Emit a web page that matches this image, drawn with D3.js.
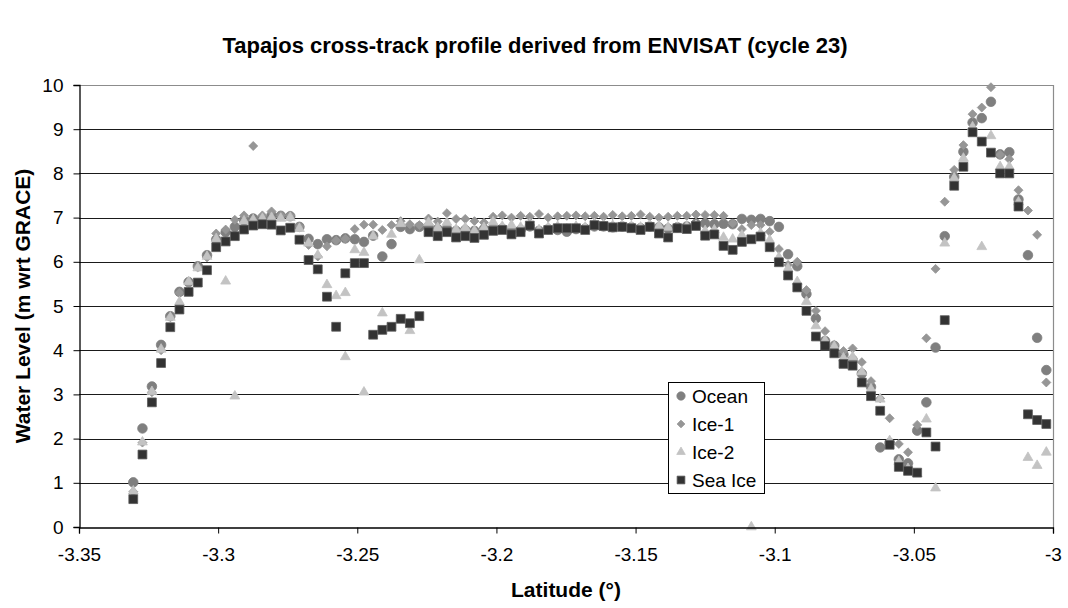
<!DOCTYPE html>
<html>
<head>
<meta charset="utf-8">
<script src="https://cdn.jsdelivr.net/npm/d3@7"></script>
<style>
  body { margin: 0; background: #fff; }
  text { font-family: "Liberation Sans", Arial, sans-serif; }
</style>
</head>
<body>
<svg id="chart"></svg>
<script>
// chart values
let lat = [-3.3305,-3.3272,-3.3238,-3.3205,-3.3172,-3.3139,-3.3106,-3.3073,-3.3040,-3.3007,
           -3.2973,-3.2940,-3.2907,-3.2874,-3.2841,-3.2808,-3.2775,-3.2741,-3.2708,-3.2675,
           -3.2642,-3.2609,-3.2576,-3.2543,-3.2509,-3.2476,-3.2443,-3.2410,-3.2377,-3.2344,
           -3.2311,-3.2277,-3.2244,-3.2211,-3.2178,-3.2145,-3.2112,-3.2079,-3.2045,-3.2012,
           -3.1979,-3.1946,-3.1913,-3.1880,-3.1847,-3.1814,-3.1780,-3.1747,-3.1714,-3.1681,
           -3.1648,-3.1615,-3.1582,-3.1548,-3.1515,-3.1482,-3.1449,-3.1416,-3.1383,-3.1350,
           -3.1316,-3.1283,-3.1250,-3.1217,-3.1184,-3.1151,-3.1118,-3.1084,-3.1051,-3.1018,
           -3.0985,-3.0952,-3.0919,-3.0886,-3.0852,-3.0819,-3.0786,-3.0753,-3.0720,-3.0687,
           -3.0654,-3.0621,-3.0587,-3.0554,-3.0521,-3.0488,-3.0455,-3.0422,-3.0389,-3.0355,
           -3.0322,-3.0289,-3.0256,-3.0223,-3.0190,-3.0157,-3.0124,-3.0090,-3.0057,-3.0024]

let ocean = [1.01,2.23,3.18,4.12,4.77,5.32,5.54,5.90,6.15,6.50,
             6.67,6.79,6.94,6.98,6.98,7.05,7.04,7.03,6.79,6.52,
             6.40,6.51,6.49,6.53,6.51,6.45,6.59,6.12,6.40,6.79,
             6.74,6.79,6.80,6.74,6.75,6.70,6.72,6.70,6.74,6.76,
             6.75,6.70,6.72,6.80,6.70,6.74,6.72,6.68,6.74,6.75,
             6.80,6.80,6.78,6.80,6.78,6.76,6.80,6.78,6.75,6.78,
             6.80,6.86,6.87,6.85,6.86,6.85,6.97,6.95,6.97,6.92,
             6.79,6.17,5.90,5.27,4.72,4.21,4.10,3.90,3.78,3.47,
             3.17,1.80,1.90,1.53,1.44,2.18,2.82,4.06,6.58,7.92,
             8.49,9.15,9.25,9.62,8.43,8.48,7.41,6.15,4.28,3.55]

let ice1 = [0.80,1.91,3.05,4.00,4.75,5.30,5.52,5.88,6.10,6.64,
            6.73,6.95,7.05,8.62,7.05,7.14,7.05,7.05,6.80,6.38,
            6.12,6.35,6.48,6.52,6.74,6.84,6.84,6.72,6.83,6.92,
            6.85,6.83,6.98,6.91,7.10,6.97,6.97,6.92,6.89,7.02,
            7.05,7.00,7.04,7.02,7.08,7.00,7.03,7.04,7.05,7.03,
            7.04,7.02,7.06,7.03,7.04,7.07,7.02,7.00,7.02,7.04,
            7.04,7.07,7.06,7.06,7.04,6.87,6.74,6.83,6.83,6.68,
            6.29,5.93,6.00,5.36,4.89,4.43,4.12,3.98,4.04,3.73,
            3.30,2.91,2.46,1.88,1.69,2.31,4.27,5.84,7.36,8.08,
            8.64,9.34,9.49,9.95,8.42,8.32,7.62,7.16,6.61,3.27]

let ice2 = [0.81,1.92,3.06,4.02,4.74,5.09,5.55,5.86,6.12,6.52,
            5.56,2.96,6.92,6.95,6.98,7.00,6.98,7.00,6.75,6.42,
            6.15,5.48,5.23,5.30,6.27,6.21,6.58,4.84,6.62,6.86,
            4.44,6.04,6.89,6.77,6.89,6.73,6.77,6.70,6.77,6.90,
            6.80,6.83,6.78,6.85,6.72,6.78,6.80,6.74,6.80,6.78,
            6.86,6.84,6.82,6.82,6.80,6.78,6.82,6.81,6.78,6.78,
            6.80,6.82,6.70,6.72,6.55,6.51,6.60,0.00,6.65,6.49,
            6.10,5.85,5.55,5.10,4.55,4.22,4.08,3.82,3.85,3.51,
            3.12,2.89,1.95,1.48,1.32,1.20,2.44,0.88,6.42,7.89,
            8.34,9.05,6.34,8.85,8.15,8.15,7.35,1.57,1.39,1.69]

// extra Ice-2 returns at the same along-track positions
let ice2ExtraLat = [-3.2543, -3.2476]
let ice2ExtraVal = [3.85, 3.05]

let seaIce = [0.63,1.64,2.82,3.71,4.52,4.92,5.32,5.53,5.81,6.33,
              6.46,6.58,6.73,6.82,6.85,6.84,6.71,6.77,6.50,6.04,
              5.83,5.21,4.53,5.74,5.97,5.97,4.35,4.46,4.53,4.71,
              4.61,4.77,6.67,6.58,6.67,6.55,6.58,6.54,6.61,6.70,
              6.72,6.62,6.67,6.82,6.64,6.72,6.76,6.76,6.76,6.72,
              6.83,6.81,6.78,6.79,6.76,6.72,6.79,6.64,6.55,6.76,
              6.74,6.81,6.59,6.62,6.36,6.27,6.45,6.51,6.57,6.33,
              5.99,5.69,5.42,4.89,4.31,4.10,3.93,3.69,3.65,3.27,
              2.96,2.63,1.86,1.36,1.27,1.23,2.14,1.82,4.68,7.72,
              8.15,8.93,8.72,8.47,8.00,8.00,7.25,2.55,2.42,2.33]

let xTicks = [-3.35, -3.3, -3.25, -3.2, -3.15, -3.1, -3.05, -3]
let xTickLabels = ['-3.35', '-3.3', '-3.25', '-3.2', '-3.15', '-3.1', '-3.05', '-3']
let yTicks = [0, 1, 2, 3, 4, 5, 6, 7, 8, 9, 10]

let seriesNames = ['Ocean', 'Ice-1', 'Ice-2', 'Sea Ice']

//Dimensions
let width = 1068
let height = 608
let plotL = 79, plotR = 1053, plotT = 85, plotB = 527

let svg = d3.select('#chart')
            .attr('width', width)
            .attr('height', height)

svg.append('rect').attr('width', width).attr('height', height).attr('fill', '#fff')

let x = d3.scaleLinear().domain([-3.35, -3]).range([plotL, plotR])
let y = d3.scaleLinear().domain([0, 10]).range([plotB, plotT])

// gridlines
svg.append('g')
    .selectAll('line')
    .data(yTicks.filter(d => d > 0 && d < 10))
    .enter()
    .append('line')
    .attr('x1', plotL).attr('x2', plotR)
    .attr('y1', d => Math.round(y(d)) + 0.5)
    .attr('y2', d => Math.round(y(d)) + 0.5)
    .attr('stroke', '#1a1a1a')
    .attr('stroke-width', 1)

// plot area border (top and right)
svg.append('path')
    .attr('d', `M${plotL},${plotT + 0.5}H${plotR + 0.5}V${plotB}`)
    .attr('fill', 'none')
    .attr('stroke', '#8c8c8c')
    .attr('stroke-width', 1.2)

// markers
let styles = [
    { type: d3.symbolCircle, size: 72, fill: '#7f7f7f', stroke: '#7f7f7f', rot: 0 },
    { type: d3.symbolSquare, size: 40, fill: '#969696', stroke: '#969696', rot: 45 },
    { type: d3.symbolTriangle, size: 42, fill: '#c3c3c3', stroke: '#c3c3c3', rot: 0 },
    { type: d3.symbolSquare, size: 78, fill: '#333333', stroke: '#5a5a5a', rot: 0 }
]

let drawSeries = (lats, vals, st) => {
    let pts = lats.map((d, i) => [d, vals[i]]).filter(p => p[1] != null)
    svg.append('g')
        .selectAll('path')
        .data(pts)
        .enter()
        .append('path')
        .attr('d', d3.symbol().type(st.type).size(st.size))
        .attr('transform', p => `translate(${x(p[0])},${y(p[1])}) rotate(${st.rot})`)
        .attr('fill', st.fill)
        .attr('stroke', st.stroke)
        .attr('stroke-width', 0.8)
}

drawSeries(lat, ocean, styles[0])
drawSeries(lat, ice1, styles[1])
drawSeries(lat, ice2, styles[2])
drawSeries(ice2ExtraLat, ice2ExtraVal, styles[2])
drawSeries(lat, seaIce, styles[3])

// axes
let yAxis = svg.append('g')
    .attr('transform', `translate(${plotL + 0.5},0)`)
    .call(d3.axisLeft(y).tickValues(yTicks).tickSize(6).tickPadding(10).tickFormat(d3.format('d')))
let xAxis = svg.append('g')
    .attr('transform', `translate(0,${plotB + 0.5})`)
    .call(d3.axisBottom(x).tickValues(xTicks).tickSize(6).tickPadding(14)
            .tickFormat((d, i) => xTickLabels[i]))

for (let ax of [xAxis, yAxis]) {
    ax.select('.domain').attr('stroke', '#000').attr('stroke-width', 1.3)
    ax.selectAll('.tick line').attr('stroke', '#000')
    ax.selectAll('.tick text')
      .attr('fill', '#000')
      .style('font-size', '19px')
      .style('font-family', '"Liberation Sans", Arial, sans-serif')
}

// titles
svg.append('text')
    .attr('x', 535).attr('y', 53)
    .attr('text-anchor', 'middle')
    .style('font-size', '22px').style('font-weight', 'bold')
    .text('Tapajos cross-track profile derived from ENVISAT (cycle 23)')

svg.append('text')
    .attr('transform', 'translate(30,306) rotate(-90)')
    .attr('text-anchor', 'middle')
    .style('font-size', '21px').style('font-weight', 'bold')
    .text('Water Level (m wrt GRACE)')

svg.append('text')
    .attr('x', 566).attr('y', 597)
    .attr('text-anchor', 'middle')
    .style('font-size', '21px').style('font-weight', 'bold')
    .text('Latitude (°)')

// legend
let legend = svg.append('g').attr('id', 'legend')
legend.append('rect')
    .attr('x', 668.5).attr('y', 382.5)
    .attr('width', 96).attr('height', 111)
    .attr('fill', '#fff').attr('stroke', '#000').attr('stroke-width', 1)

seriesNames.forEach((name, i) => {
    let st = styles[i]
    let cy = 396 + i * 28
    let sz = i === 3 ? 60 : st.size * 0.75
    legend.append('path')
        .attr('d', d3.symbol().type(st.type).size(sz))
        .attr('transform', `translate(681,${cy}) rotate(${st.rot})`)
        .attr('fill', st.fill).attr('stroke', st.stroke).attr('stroke-width', 0.8)
    legend.append('text')
        .attr('x', 692).attr('y', cy + 7)
        .style('font-size', '19px')
        .text(name)
})
</script>
</body>
</html>
